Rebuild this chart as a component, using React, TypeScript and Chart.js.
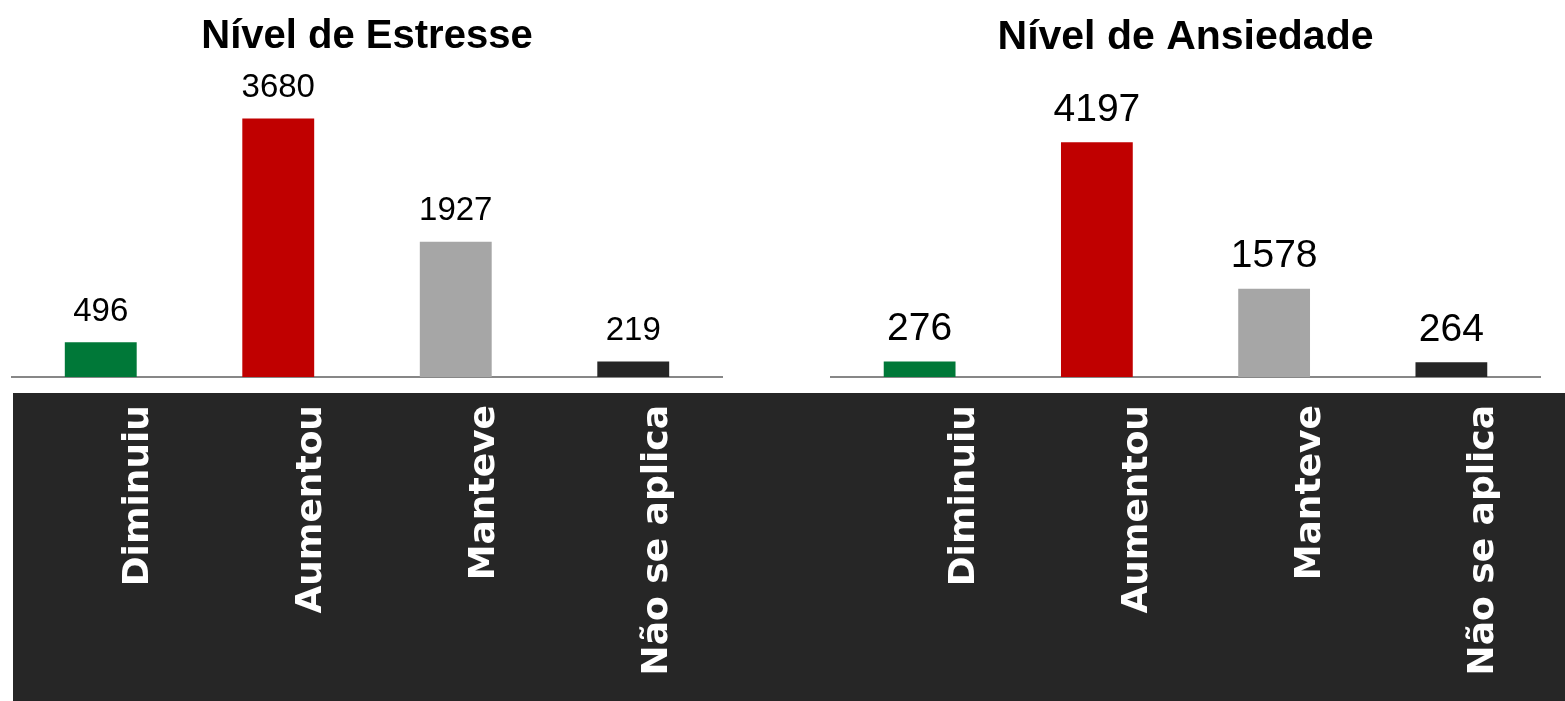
import React, { useEffect, useRef } from 'react';
import { Chart, registerables } from 'chart.js';

Chart.register(...registerables);

const categories = ['Diminuiu', 'Aumentou', 'Manteve', 'Não se aplica'];
const stressValues = [496, 3680, 1927, 219];
const anxietyValues = [276, 4197, 1578, 264];
const barColors = ['#007838', '#C00000', '#A6A6A6', '#262626'];
const stressTitle = 'Nível de Estresse';
const anxietyTitle = 'Nível de Ansiedade';
const stressMax = 4000;
const anxietyMax = 5000;

const valueLabels = {
  id: 'valueLabels',
  afterDatasetsDraw(chart: any, _args: any, opts: any) {
    const ctx = chart.ctx;
    const meta = chart.getDatasetMeta(0);
    const data = chart.data.datasets[0].data;
    ctx.save();
    ctx.font = `${opts.size}px "Liberation Sans", Arial, sans-serif`;
    ctx.fillStyle = '#000000';
    ctx.textAlign = 'center';
    ctx.textBaseline = 'alphabetic';
    meta.data.forEach((bar: any, i: number) => {
      ctx.fillText(String(data[i]), bar.x, bar.y - opts.gap);
    });
    ctx.restore();
  },
};

type Props = {
  title: string;
  values: number[];
  yMax: number;
  labelMin: number;
  labelMax: number;
  valueSize: number;
  titleSize: number;
  left: number;
  width: number;
};

function BarChart(p: Props) {
  const ref = useRef<HTMLCanvasElement | null>(null);
  useEffect(() => {
    if (!ref.current) return;
    const chart = new Chart(ref.current, {
      type: 'bar',
      data: {
        labels: categories,
        datasets: [
          {
            data: p.values,
            backgroundColor: barColors,
            borderWidth: 0,
            categoryPercentage: 1,
            barPercentage: 0.405,
          },
        ],
      },
      options: {
        animation: false,
        responsive: false,
        maintainAspectRatio: false,
        layout: { padding: { left: 12, right: 12, top: 0, bottom: 0 } },
        plugins: {
          legend: { display: false },
          tooltip: { enabled: false },
          title: {
            display: true,
            text: p.title,
            color: '#000000',
            font: { family: '"Liberation Sans", Arial, sans-serif', size: p.titleSize, weight: 'bold' },
            padding: { top: 13, bottom: 35 },
          },
          valueLabels: { size: p.valueSize, gap: 21.5 },
        } as any,
        scales: {
          x: { type: 'category', display: false },
          xl: {
            type: 'linear',
            position: 'bottom',
            axis: 'x',
            offset: false,
            min: p.labelMin,
            max: p.labelMax,
            z: 1,
            grid: { display: false, drawTicks: false, offset: false },
            border: { display: true, color: '#878787', width: 2 },
            afterBuildTicks: (scale: any) => {
              scale.ticks = categories.map((_, i) => ({ value: i }));
            },
            afterFit: (scale: any) => {
              scale.height = 324;
              scale.paddingLeft = 0;
              scale.paddingRight = 0;
            },
            ticks: {
              autoSkip: false,
              minRotation: 90,
              maxRotation: 90,
              padding: 28,
              color: '#FFFFFF',
              font: { family: '"DejaVu Sans", sans-serif', size: 36, weight: 'bold' },
              callback: (v: any) => categories[Math.round(Number(v))] ?? '',
            },
          } as any,
          y: { display: false, min: 0, max: p.yMax },
        },
      },
      plugins: [valueLabels],
    } as any);
    return () => chart.destroy();
  }, []);
  return (
    <canvas
      ref={ref}
      width={p.width}
      height={701}
      style={{ position: 'absolute', left: p.left, top: 0, width: p.width, height: 701, zIndex: 1 }}
    />
  );
}

export default function App() {
  return (
    <div style={{ position: 'absolute', left: 0, top: 0, width: 1565, height: 701, overflow: 'hidden', background: '#FFFFFF' }}>
      <div style={{ position: 'absolute', left: 13, top: 393, width: 1552, height: 308, background: '#262626', zIndex: 0 }} />
      <BarChart title={stressTitle} values={stressValues} yMax={stressMax} labelMin={-0.7312} labelMax={3.3728} valueSize={33} titleSize={40} left={0} width={734} />
      <BarChart title={anxietyTitle} values={anxietyValues} yMax={anxietyMax} labelMin={-0.775} labelMax={3.323} valueSize={39} titleSize={41} left={819} width={733} />
    </div>
  );
}
